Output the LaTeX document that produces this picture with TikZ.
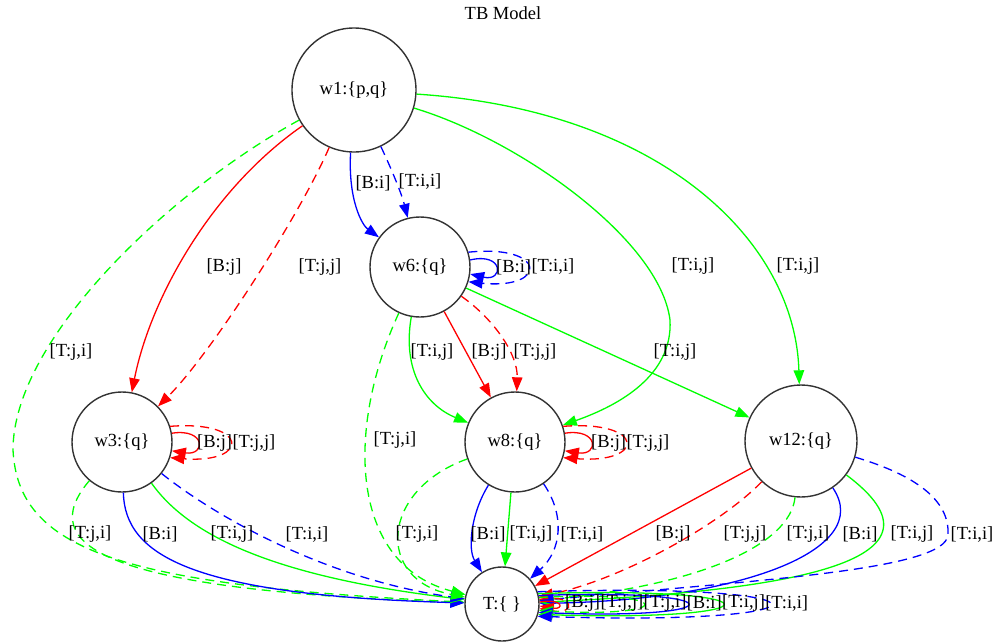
\documentclass[tikz,border=0pt]{standalone}
\usepackage{fontspec}
\setmainfont{Liberation Serif}
\usetikzlibrary{arrows.meta}
\begin{document}
\begin{tikzpicture}[x=1pt,y=-1pt,
  txt/.style={font=\fontsize{18.5}{20}\selectfont,text=black},
  state/.style={circle,draw=black!80,line width=1.4pt,inner sep=0pt,txt},
  elab/.style={inner sep=0pt,txt},
  edge/.style={line width=1.3pt,-{Triangle[length=14pt,width=10.5pt]}},
  dashpat/.style={dash pattern=on 9pt off 6pt},
  rs/.style={edge,color=red},
  rd/.style={edge,color=red,dashpat},
  gs/.style={edge,color=green},
  gd/.style={edge,color=green,dashpat},
  bs/.style={edge,color=blue},
  bd/.style={edge,color=blue,dashpat}]
\useasboundingbox (0,0) rectangle (997,643);

\node[elab] (title) at (503,13) {TB Model};

% worlds
\node[state,minimum size=124pt] (w1) at (354,90) {w1:\{p,q\}};
\node[state,minimum size=100pt] (w6) at (420,267) {w6:\{q\}};
\node[state,minimum size=100pt] (w3) at (122,442) {w3:\{q\}};
\node[state,minimum size=100pt] (w8) at (515,442) {w8:\{q\}};
\node[state,minimum size=112pt] (w12) at (801,441) {w12:\{q\}};
\node[state,minimum size=74pt] (T) at (502,604) {T:\{ \}};

% edges leaving w1
\draw[bs] (w1) .. controls (348,200) and (362,225) .. (w6);
\draw[bd] (w1) .. controls (392,170) and (402,195) .. (w6);
\draw[rs] (w1) .. controls (210,190) and (150,300) .. (w3);
\draw[rd] (w1) .. controls (300,215) and (210,355) .. (w3);
\draw[gs] (w1) .. controls (520,140) and (660,240) .. (670,320)
               .. controls (673,375) and (620,405) .. (w8);
\draw[gs] (w1) .. controls (660,110) and (795,240) .. (w12);
\draw[gd] (w1) .. controls (168,192) and (13,340) .. (13,450)
               .. controls (18,550) and (120,585) .. (T);

\node[elab] (l1) at (373,183) {[B:i]};
\node[elab] (l2) at (420,182) {[T:i,i]};
\node[elab] (l3) at (224,267) {[B:j]};
\node[elab] (l4) at (320,267) {[T:j,j]};
\node[elab] (l5) at (693,266) {[T:i,j]};
\node[elab] (l6) at (798,266) {[T:i,j]};
\node[elab] (l7) at (71,352) {[T:j,i]};

% edges leaving w6
\draw[bs] (w6.8) .. controls (504,252) and (504,282) .. (w6.-8);
\draw[bd] (w6.17) .. controls (548,244) and (548,290) .. (w6.-17);
\draw[gs] (w6) .. controls (402,370) and (425,405) .. (w8);
\draw[rs] (w6) -- (w8);
\draw[rd] (w6) .. controls (495,320) and (518,355) .. (w8);
\draw[gs] (w6) -- (w12);
\draw[gd] (w6) .. controls (345,430) and (350,565) .. (T);

\node[elab,anchor=west] (m1) at (496,267) {[B:i]};
\node[elab,anchor=west] (m2) at (m1.east) {[T:i,i]};
\node[elab] (l8) at (432,352) {[T:i,j]};
\node[elab] (l9) at (489,352) {[B:j]};
\node[elab] (l10) at (535,352) {[T:j,j]};
\node[elab] (l11) at (675,352) {[T:i,j]};
\node[elab] (l12) at (395,440) {[T:j,i]};

% edges leaving w3
\draw[rs] (w3.10) .. controls (206,428) and (206,456) .. (w3.-10);
\draw[rd] (w3.18) .. controls (250,420) and (250,464) .. (w3.-18);
\draw[gd] (w3) .. controls (35,545) and (100,590) .. (T);
\draw[bs] (w3) .. controls (125,555) and (190,595) .. (T);
\draw[gs] (w3) .. controls (185,530) and (260,575) .. (T);
\draw[bd] (w3) .. controls (220,520) and (330,580) .. (T);

\node[elab,anchor=west] (n1) at (197,443) {[B:j]};
\node[elab,anchor=west] (n2) at (n1.east) {[T:j,j]};
\node[elab] (l13) at (90,534) {[T:j,i]};
\node[elab] (l14) at (160,534) {[B:i]};
\node[elab] (l15) at (232,534) {[T:i,j]};
\node[elab] (l16) at (307,534) {[T:i,i]};

% edges leaving w8
\draw[rs] (w8.10) .. controls (599,428) and (599,456) .. (w8.-10);
\draw[rd] (w8.18) .. controls (646,420) and (646,464) .. (w8.-18);
\draw[gd] (w8) .. controls (380,490) and (375,580) .. (T);
\draw[bs] (w8) .. controls (470,515) and (468,550) .. (T);
\draw[gs] (w8) -- (T);
\draw[bd] (w8) .. controls (565,515) and (562,550) .. (T);

\node[elab,anchor=west] (p1) at (591,443) {[B:j]};
\node[elab,anchor=west] (p2) at (p1.east) {[T:j,j]};
\node[elab] (l17) at (417,534) {[T:j,i]};
\node[elab] (l18) at (488,534) {[B:i]};
\node[elab] (l19) at (531,534) {[T:i,j]};
\node[elab] (l20) at (582,534) {[T:i,i]};

% edges leaving w12
\draw[rs] (w12) -- (T);
\draw[rd] (w12) .. controls (720,525) and (620,580) .. (T);
\draw[gd] (w12) .. controls (790,545) and (700,585) .. (T);
\draw[bs] (w12) .. controls (875,550) and (740,600) .. (T);
\draw[gs] (w12) .. controls (960,560) and (800,590) .. (T);
\draw[bd] (w12) .. controls (915,475) and (950,500) .. (948,535)
                .. controls (945,570) and (760,580) .. (T);

\node[elab] (l21) at (673,534) {[B:j]};
\node[elab] (l22) at (745,534) {[T:j,j]};
\node[elab] (l23) at (808,534) {[T:j,i]};
\node[elab] (l24) at (860,534) {[B:i]};
\node[elab] (l25) at (912,534) {[T:i,j]};
\node[elab] (l26) at (972,534) {[T:i,i]};

% self loops on T
\draw[rs] (T.3) .. controls (564,598) and (564,610) .. (T.-3);
\draw[rd] (T.7) .. controls (576,593) and (576,615) .. (T.-7);
\draw[gd] (T.10) .. controls (678,590) and (678,618) .. (T.-10);
\draw[bs] (T.13) .. controls (737,588) and (737,620) .. (T.-13);
\draw[gs] (T.16) .. controls (784,586) and (784,622) .. (T.-16);
\draw[bd] (T.19) .. controls (847,582) and (847,626) .. (T.-19);

\node[elab,anchor=west] (q1) at (565,603) {[B:j]};
\node[elab,anchor=west] (q2) at (q1.east) {[T:j,j]};
\node[elab,anchor=west] (q3) at (q2.east) {[T:j,i]};
\node[elab,anchor=west] (q4) at (q3.east) {[B:i]};
\node[elab,anchor=west] (q5) at (q4.east) {[T:i,j]};
\node[elab,anchor=west] (q6) at (q5.east) {[T:i,i]};
\end{tikzpicture}
\end{document}
